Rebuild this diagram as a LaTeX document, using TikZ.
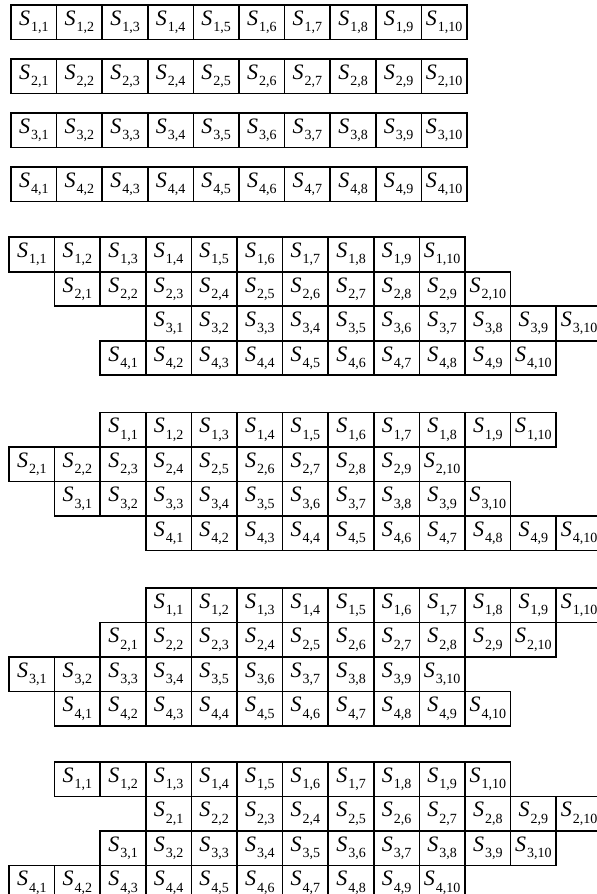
\documentclass[tikz,border=0pt]{standalone}
\usepackage{fontspec}
\setmainfont{Liberation Serif}
\usepackage{tikz}

% cell label S_{i,j}
\newcommand{\slab}[2]{\textit{S}\kern0.5pt\raisebox{-3.2pt}{\fontsize{7}{7}\selectfont #1,#2}}

\begin{document}
\begin{tikzpicture}[
    x=0.5pt, y=-0.5pt,
    cell/.style={draw, line width=0.85pt, minimum width=22.8pt, minimum height=17.25pt,
                 inner sep=0pt, font=\fontsize{11}{11}\selectfont}
]
\clip (0,0) rectangle (597,894);

% Cell size
\def\cw{45.6}
\def\ch{34.5}

% Left edges
\def\xA{11}
\def\xL{9}

% Block tops
\def\yB{237.3}
\def\yC{412.6}
\def\yD{587.9}
\def\yE{762}

% Block A: four separate rows
\foreach \r/\yy in {1/5,2/59,3/113,4/167}
  \foreach \c in {1,...,10}
    \node[cell] (a\r-\c) at ({\xA+(\c-0.5)*\cw},{\yy+0.5*\ch}) {\slab{\r}{\c}};

% Block B: shifts 0,1,3,2
\foreach \r/\o in {1/0,2/1,3/3,4/2}
  \foreach \c in {1,...,10}
    \node[cell] (b\r-\c) at ({\xL+(\o+\c-0.5)*\cw},{\yB+(\r-0.5)*\ch}) {\slab{\r}{\c}};

% Block C: shifts 2,0,1,3
\foreach \r/\o in {1/2,2/0,3/1,4/3}
  \foreach \c in {1,...,10}
    \node[cell] (c\r-\c) at ({\xL+(\o+\c-0.5)*\cw},{\yC+(\r-0.5)*\ch}) {\slab{\r}{\c}};

% Block D: shifts 3,2,0,1
\foreach \r/\o in {1/3,2/2,3/0,4/1}
  \foreach \c in {1,...,10}
    \node[cell] (d\r-\c) at ({\xL+(\o+\c-0.5)*\cw},{\yD+(\r-0.5)*\ch}) {\slab{\r}{\c}};

% Block E: shifts 1,3,2,0
\foreach \r/\o in {1/1,2/3,3/2,4/0}
  \foreach \c in {1,...,10}
    \node[cell] (e\r-\c) at ({\xL+(\o+\c-0.5)*\cw},{\yE+(\r-0.5)*\ch}) {\slab{\r}{\c}};

\end{tikzpicture}
\end{document}
